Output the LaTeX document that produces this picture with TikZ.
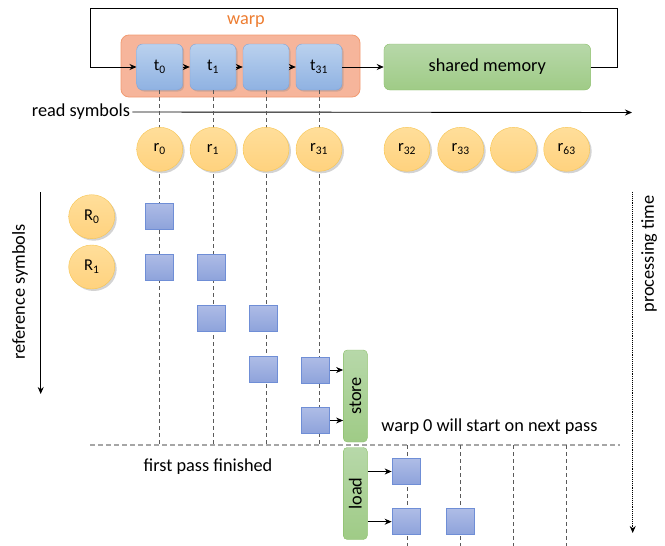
\documentclass[tikz,border=0pt]{standalone}
\usepackage{fontspec}
\setmainfont{Carlito}
\usetikzlibrary{arrows.meta,shadows,shapes.geometric}
\definecolor{warpFill}{HTML}{F6B59B}
\definecolor{warpDraw}{HTML}{F19B72}
\definecolor{warpText}{HTML}{ED7D31}
\definecolor{thrTop}{HTML}{BAD1EE}
\definecolor{thrBot}{HTML}{8FB2E2}
\definecolor{thrDraw}{HTML}{7FA3D6}
\definecolor{smTop}{HTML}{B7D8A9}
\definecolor{smBot}{HTML}{9FCB86}
\definecolor{smDraw}{HTML}{8DC06C}
\definecolor{cirTop}{HTML}{FFDE9A}
\definecolor{cirBot}{HTML}{FFD27E}
\definecolor{cirDraw}{HTML}{F7C550}
\definecolor{sqTop}{HTML}{AEBCE6}
\definecolor{sqBot}{HTML}{8EA3DB}
\definecolor{sqDraw}{HTML}{6F8ED6}
\definecolor{vGray}{HTML}{5A5A5A}
\definecolor{hGray}{HTML}{A6A6A6}
\begin{document}
\begin{tikzpicture}[x=1pt,y=-1pt,
  font=\fontsize{18.3}{22}\selectfont,
  >={Stealth[length=7pt,width=6pt]},
  lbl/.style={inner sep=2pt},
  smallfont/.style={font=\fontsize{16.5}{19}\selectfont},
  warpbox/.style={draw=warpDraw, fill=warpFill, rounded corners=8pt, minimum width=239pt, minimum height=62pt, inner sep=0pt, line width=0.8pt},
  thread/.style={draw=thrDraw, top color=thrTop, bottom color=thrBot, rounded corners=6pt, minimum width=46pt, minimum height=46pt, inner sep=0pt, smallfont, drop shadow={opacity=0.3,shadow xshift=1.5pt,shadow yshift=-1.5pt}},
  smbox/.style={draw=smDraw, top color=smTop, bottom color=smBot, rounded corners=6pt, minimum width=206.7pt, minimum height=46pt, inner sep=0pt},
  sym/.style={ellipse, draw=cirDraw, top color=cirTop, bottom color=cirBot, minimum width=46pt, minimum height=44pt, inner sep=0pt, smallfont, drop shadow={opacity=0.35,shadow xshift=2pt,shadow yshift=-2pt}},
  sq/.style={draw=sqDraw, top color=sqTop, bottom color=sqBot, minimum width=28pt, minimum height=26pt, inner sep=0pt, line width=0.7pt},
  ioBox/.style={draw=smDraw, top color=smTop, bottom color=smBot, rounded corners=4pt, minimum width=24pt, minimum height=92pt, inner sep=0pt},
  vdash/.style={draw=vGray, line width=0.7pt, dash pattern=on 4pt off 3pt},
  hdash/.style={draw=hGray, line width=1.3pt, dash pattern=on 5pt off 3pt},
  conn/.style={draw=black, line width=0.9pt, ->}
]
\useasboundingbox (0,0) rectangle (665,546);

% warp and threads
\node[warpbox] (warp) at (240.5,66) {};
\node[lbl, text=warpText] (warplbl) at (246,22) {warp};
\node[thread] (t0) at (159.7,67) {t\textsubscript{0}};
\node[thread] (t1) at (213,67) {t\textsubscript{1}};
\node[thread] (t2) at (266,67) {};
\node[thread] (t31) at (319,67) {t\textsubscript{31}};
\node[smbox] (sm) at (487.3,67) {shared memory};

\draw[conn] (t0) -- (t1);
\draw[conn] (t1) -- (t2);
\draw[conn] (t2) -- (t31);
\draw[conn] (t31) -- (sm);

\coordinate (loopR) at (617.5,8);
\coordinate (loopL) at (90,8);
\draw[conn] (sm.east) -| (loopR) -- (loopL) |- (t0.west);

% read symbols axis
\node[lbl] (rs) at (81,112) {read symbols};
\coordinate (rsEnd) at (632,112.5);
\draw[conn] (rs.east) -- (rsEnd);

% pass separator
\coordinate (hL) at (90,445);
\coordinate (hR) at (620,445);
\coordinate (bot) at (0,546);
\draw[hdash] (hL) -- (hR);

\foreach \t in {t0,t1,t2,t31} \draw[vdash] (\t.south) -- (\t.south |- hL);

% read symbols
\node[sym] (r0) at (159.7,149.3) {r\textsubscript{0}};
\node[sym] (r1) at (213,149.3) {r\textsubscript{1}};
\node[sym] (r2) at (266,149.3) {};
\node[sym] (r31) at (319,149.3) {r\textsubscript{31}};
\node[sym] (r32) at (407,149.3) {r\textsubscript{32}};
\node[sym] (r33) at (460.7,149.3) {r\textsubscript{33}};
\node[sym] (r34) at (513.5,149.3) {};
\node[sym] (r63) at (566.7,149.3) {r\textsubscript{63}};

\foreach \r in {r32,r33,r34,r63} \draw[vdash] (\r |- hL) -- (\r |- bot);

% reference symbols
\node[sym] (R0) at (91.7,216.7) {R\textsubscript{0}};
\node[sym] (R1) at (91.7,267) {R\textsubscript{1}};
\coordinate (refTop) at (40.7,192);
\coordinate (refBot) at (40.7,394);
\draw[conn] (refTop) -- (refBot);
\node[lbl, rotate=90] (reflbl) at (20,292) {reference symbols};

% processing time
\coordinate (ptTop) at (632.7,192);
\coordinate (ptBot) at (632.7,533);
\draw[line width=0.9pt, densely dotted, ->] (ptTop) -- (ptBot);
\node[lbl, rotate=90] (ptlbl) at (649,254) {processing time};

% first pass squares
\node[sq] (s11) at (159.7,216) {};
\node[sq] (s21) at (159.7,267) {};
\node[sq] (s22) at (211,267) {};
\node[sq] (s32) at (211,318) {};
\node[sq] (s33) at (263,318) {};
\node[sq] (s43) at (263,369.5) {};
\node[sq] (s44) at (315.5,370) {};
\node[sq] (s54) at (315.5,420.5) {};

\node[ioBox] (store) at (355.3,396) {\rotatebox{90}{store}};
\node[ioBox] (load) at (355.3,493.5) {\rotatebox{90}{load}};

\draw[conn] (s44.east) -- (s44.east -| store.west);
\draw[conn] (s54.east) -- (s54.east -| store.west);

% next pass squares
\node[sq] (n11) at (406,471.5) {};
\node[sq] (n21) at (406,521.7) {};
\node[sq] (n22) at (460.8,521.7) {};
\draw[conn] (load.east |- n11) -- (n11.west);
\draw[conn] (load.east |- n21) -- (n21.west);

\node[lbl] (nextlbl) at (489.5,427) {warp 0 will start on next pass};
\node[lbl] (firstlbl) at (208,467) {first pass finished};
\end{tikzpicture}
\end{document}
